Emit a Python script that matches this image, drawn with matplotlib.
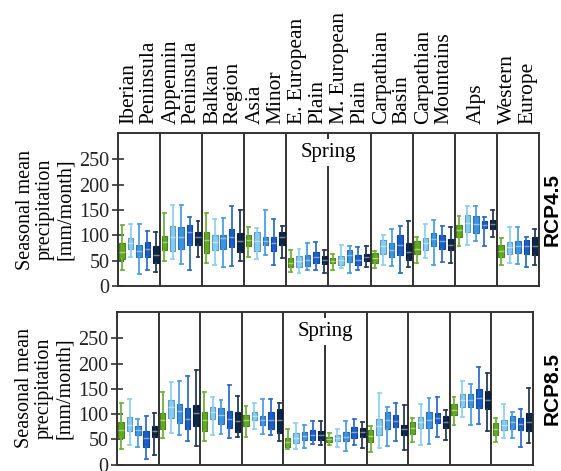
import numpy as np
import matplotlib.pyplot as plt

# regions along the x axis
regions = ["Iberian\nPeninsula", "Appennin\nPeninsula", "Balkan\nRegion", "Asia\nMinor",
           "E. European\nPlain", "M. European\nPlain", "Carpathian\nBasin",
           "Carpathian\nMountains", "Alps", "Western\nEurope"]
yticks = [0, 50, 100, 150, 200, 250]
colors = ['#62a923', '#84ccf3', '#3b93e2', '#1a5ec6', '#0f2747']

# RCP4.5 box statistics (per region: 5 boxes)
rcp45_whishi = [[120, 122, 122, 109, 107], [145, 159, 159, 136, 129], [145, 132, 134, 158, 151],
                [116, 114, 150, 132, 118], [71, 74, 84, 86, 72], [63, 81, 78, 76, 78],
                [70, 101, 112, 118, 129], [96, 122, 130, 118, 117], [138, 158, 157, 136, 150],
                [94, 116, 116, 96, 112]]
rcp45_q3 = [[84, 94, 81, 86, 78], [99, 118, 116, 120, 106], [107, 101, 101, 112, 104],
            [101, 107, 97, 97, 107], [55, 59, 61, 68, 59], [55, 59, 71, 61, 63],
            [66, 91, 84, 101, 84], [88, 94, 104, 101, 92], [120, 140, 138, 129, 130],
            [81, 86, 89, 91, 96]]
rcp45_med = [[68, 84, 70, 74, 61], [86, 97, 97, 107, 96], [91, 86, 94, 96, 88],
             [91, 88, 89, 84, 96], [46, 49, 51, 57, 51], [50, 51, 61, 51, 58],
             [55, 78, 72, 81, 68], [74, 84, 92, 88, 81], [111, 124, 122, 120, 122],
             [70, 76, 78, 78, 78]]
rcp45_q1 = [[53, 74, 57, 57, 46], [71, 70, 74, 81, 81], [66, 71, 74, 76, 68],
            [78, 70, 81, 70, 81], [37, 38, 39, 45, 43], [45, 41, 48, 41, 50],
            [45, 64, 58, 61, 51], [63, 72, 78, 74, 72], [97, 107, 105, 114, 112],
            [57, 64, 66, 64, 61]]
rcp45_whislo = [[32, 57, 23, 32, 28], [50, 53, 43, 32, 57], [46, 41, 37, 39, 50],
                [57, 53, 61, 41, 55], [28, 25, 32, 32, 25], [32, 35, 25, 32, 37],
                [35, 41, 39, 25, 37], [45, 55, 41, 48, 45], [78, 81, 88, 78, 96],
                [41, 45, 43, 38, 41]]

# RCP8.5 box statistics
rcp85_whishi = [[121, 130, 91, 97, 101], [143, 163, 165, 176, 187], [144, 134, 128, 157, 136],
                [116, 121, 130, 130, 121], [70, 83, 79, 86, 86], [63, 71, 86, 91, 85],
                [77, 141, 114, 121, 118], [93, 119, 131, 134, 108], [134, 165, 159, 194, 182],
                [93, 119, 103, 110, 152]]
rcp85_q3 = [[85, 95, 77, 66, 77], [101, 128, 119, 111, 118], [103, 114, 112, 106, 104],
            [99, 103, 97, 103, 110], [53, 63, 65, 68, 66], [55, 58, 65, 75, 73],
            [68, 91, 104, 98, 79], [85, 95, 103, 101, 97], [119, 139, 139, 149, 145],
            [83, 88, 97, 93, 101]]
rcp85_med = [[68, 79, 68, 53, 66], [88, 114, 106, 91, 101], [88, 104, 99, 91, 86],
             [88, 97, 88, 88, 88], [45, 53, 57, 58, 58], [50, 53, 55, 65, 65],
             [57, 77, 88, 86, 70], [73, 85, 88, 93, 85], [108, 128, 128, 131, 128],
             [71, 78, 85, 81, 85]]
rcp85_q1 = [[52, 66, 59, 35, 55], [71, 93, 83, 70, 77], [66, 91, 81, 73, 65],
            [77, 88, 78, 70, 63], [35, 42, 48, 48, 48], [45, 46, 46, 53, 55],
            [45, 58, 71, 75, 59], [61, 73, 73, 83, 73], [98, 114, 114, 111, 110],
            [58, 68, 71, 68, 66]]
rcp85_whislo = [[30, 38, 35, 11, 19], [52, 63, 59, 46, 37], [46, 58, 61, 53, 55],
                [55, 70, 61, 58, 46], [30, 30, 33, 40, 38], [38, 35, 26, 38, 33],
                [25, 32, 37, 46, 28], [45, 38, 40, 55, 48], [79, 95, 79, 81, 66],
                [45, 52, 52, 35, 42]]

serif = 'Liberation Serif'


def lighten(c, f=0.5):
    rgb = np.array(plt.matplotlib.colors.to_rgb(c))
    return tuple(rgb + (1 - rgb) * f)


def darken(c, f=0.25):
    rgb = np.array(plt.matplotlib.colors.to_rgb(c))
    return tuple(rgb * (1 - f))


def draw_panel(ax, whislo, q1, med, q3, whishi, scenario, label_x):
    for i in range(len(regions)):
        for k in range(5):
            stats = [dict(whislo=whislo[i][k], q1=q1[i][k], med=med[i][k],
                          q3=q3[i][k], whishi=whishi[i][k], fliers=[])]
            c = colors[k]
            ax.bxp(stats, positions=[i + 0.1 + 0.2 * k], widths=0.13, capwidths=0.07,
                   patch_artist=True, manage_ticks=False,
                   boxprops=dict(facecolor=c, edgecolor=darken(c), linewidth=0.8),
                   medianprops=dict(color=lighten(c, 0.45), linewidth=1.0),
                   whiskerprops=dict(color=lighten(c, 0.1), linewidth=1.3),
                   capprops=dict(color=lighten(c, 0.1), linewidth=1.3))
    for i in range(1, len(regions)):
        ax.axvline(i, color='#222222', lw=1.3, zorder=1)
    ax.set_xlim(0, len(regions))
    ax.set_ylim(0, 302)
    ax.set_xticks([])
    ax.set_yticks(yticks)
    ax.set_yticklabels([str(t) for t in yticks], fontfamily=serif, fontsize=14.5)
    ax.tick_params(axis='y', direction='inout', length=8, width=1.1, pad=2, colors='#222222')
    for s in ax.spines.values():
        s.set_color('#333333')
        s.set_linewidth(1.4)
    ax.set_ylabel('Seasonal mean\nprecipitation\n[mm/month]', fontfamily=serif,
                  fontsize=14.5, linespacing=1.1, labelpad=3)
    ax.text(5, 264, 'Spring', ha='center', va='center', fontfamily=serif, fontsize=15,
            zorder=5, bbox=dict(facecolor='white', edgecolor='none', pad=3))
    ax.text(label_x, 0.5, scenario, transform=ax.transAxes, rotation=90, ha='center',
            va='center', fontfamily='Liberation Sans', fontweight='bold', fontsize=15)


fig = plt.figure(figsize=(5.61, 4.71), dpi=100)
ax1 = fig.add_axes([0.2103, 0.3928, 0.7505, 0.3248])
ax2 = fig.add_axes([0.2086, 0.0138, 0.7415, 0.3238])

draw_panel(ax1, rcp45_whislo, rcp45_q1, rcp45_med, rcp45_q3, rcp45_whishi, 'RCP4.5', 1.031)
draw_panel(ax2, rcp85_whislo, rcp85_q1, rcp85_med, rcp85_q3, rcp85_whishi, 'RCP8.5', 1.046)

# region names on top of the upper panel
for i, name in enumerate(regions):
    ax1.text(i + 0.5, 1.06, name, transform=ax1.get_xaxis_transform(), rotation=90,
             ha='center', va='bottom', multialignment='left', linespacing=1.1,
             fontfamily=serif, fontsize=15.5)

fig.savefig('out.png', dpi=100)
